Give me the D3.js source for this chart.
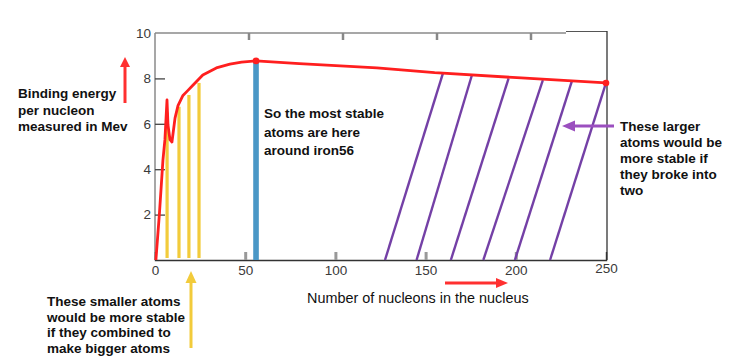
<!DOCTYPE html>
<html>
<head>
<meta charset="utf-8">
<script src="https://cdn.jsdelivr.net/npm/d3@7"></script>
<style>
  body { margin: 0; background: #fff; }
  svg { font-family: "Liberation Sans", Arial, Helvetica, sans-serif; }
  .note { font-weight: bold; font-size: 13.5px; fill: #111; }
</style>
</head>
<body>
<div id="chart"></div>
<script>
// binding energy curve (nucleons, MeV per nucleon)
var nucleons = [0.5, 2.5, 4.4, 5.5, 6.65, 7.2, 8.3, 9.4, 11.1, 12.75, 15.5, 18, 21, 26.5, 34, 41.5, 48, 56, 80, 123, 155, 203, 250];
var energy   = [0, 2.1, 4.4, 5.3, 7.05, 5.95, 5.3, 5.2, 6.25, 6.8, 7.25, 7.45, 7.7, 8.15, 8.46, 8.63, 8.72, 8.77, 8.65, 8.46, 8.25, 8.02, 7.8];

// marked points on the curve
var markA = [56, 250];
var markE = [8.77, 7.8];

// yellow bars (small atoms)
var fusionA = [6.7, 13.3, 18.8, 24.4];
var fusionE = [6.5, 6.75, 7.27, 7.8];

// blue bar (iron 56)
var ironA = 56;
var ironE = 8.7;

// purple lines (large atoms): from the axis up to the curve
var fissionFrom = [127.5, 145, 164, 182, 199.5, 219];
var fissionTo   = [159.6, 175.7, 196, 215, 231, 250];
var fissionE    = [8.22, 8.15, 8.0, 7.92, 7.86, 7.8];

var xTicks = [0, 50, 100, 150, 200, 250];
var yTicks = [2, 4, 6, 8, 10];
var topTicks = [50, 100, 150, 200];

var width = 730, height = 364;

var svg = d3.select("#chart").append("svg")
  .attr("width", width)
  .attr("height", height);

var x = d3.scaleLinear().domain([0, 250]).range([155, 606]);
var xTop = d3.scaleLinear().domain([0, 250]).range([155, 625]);
var y = d3.scaleLinear().domain([0, 10]).range([260, 33]);

// frame
svg.append("line").attr("x1", x(0)).attr("x2", x(0)).attr("y1", y(0)).attr("y2", y(10))
  .attr("stroke", "#8a8a8a").attr("stroke-width", 1.5);
svg.append("line").attr("x1", x(0)).attr("x2", 566).attr("y1", y(10)).attr("y2", y(10))
  .attr("stroke", "#8a8a8a").attr("stroke-width", 1.5);
svg.append("line").attr("x1", 566).attr("x2", 607).attr("y1", y(10) - 1.5).attr("y2", y(10) - 1.5)
  .attr("stroke", "#555").attr("stroke-width", 1.2);
svg.append("line").attr("x1", 607).attr("x2", 607).attr("y1", y(10) - 2).attr("y2", y(0))
  .attr("stroke", "#333").attr("stroke-width", 1.3);

// top ticks
svg.selectAll(".tt").data(topTicks).enter().append("line")
  .attr("x1", function(d) { return xTop(d); })
  .attr("x2", function(d) { return xTop(d); })
  .attr("y1", y(10)).attr("y2", y(10) + 7)
  .attr("stroke", "#888").attr("stroke-width", 2.5);

// x axis
var xAxis = d3.axisBottom(x).tickValues(xTicks).tickSize(-8).tickPadding(5);
var gx = svg.append("g").attr("transform", "translate(0," + y(0) + ")").call(xAxis);
gx.select(".domain").attr("stroke", "#333").attr("stroke-width", 1.4);
gx.selectAll(".tick line").attr("stroke", "#999").attr("stroke-width", 3)
  .filter(function(d) { return d == 0 || d == 250; }).remove();
gx.selectAll(".tick text").attr("font-size", 13.5).attr("fill", "#3a3a3a")
  .attr("font-family", "Liberation Sans, Arial, sans-serif");
gx.selectAll(".tick text").filter(function(d) { return d == 250; }).attr("y", 3);

// y axis
var yAxis = d3.axisLeft(y).tickValues(yTicks).tickSize(-10).tickPadding(4);
var gy = svg.append("g").attr("transform", "translate(" + x(0) + ",0)").call(yAxis);
gy.select(".domain").remove();
gy.selectAll(".tick line").attr("stroke", "#444").attr("stroke-width", 1.3)
  .filter(function(d) { return d == 10; }).remove();
gy.selectAll(".tick text").attr("font-size", 13.5).attr("fill", "#3a3a3a")
  .attr("font-family", "Liberation Sans, Arial, sans-serif");

// yellow bars
svg.selectAll(".fusion").data(fusionA).enter().append("rect")
  .attr("x", function(d) { return x(d) - 1.6; })
  .attr("y", function(d, i) { return y(fusionE[i]); })
  .attr("width", 3.2)
  .attr("height", function(d, i) { return y(0) - y(fusionE[i]) - 2; })
  .attr("fill", "#f2cb3b");

// blue bar
svg.append("rect")
  .attr("x", x(ironA) - 2.8)
  .attr("y", y(ironE))
  .attr("width", 5.6)
  .attr("height", y(0) - y(ironE))
  .attr("fill", "#4a97c6");

// purple lines
svg.selectAll(".fission").data(fissionFrom).enter().append("line")
  .attr("x1", function(d) { return x(d); })
  .attr("y1", y(0))
  .attr("x2", function(d, i) { return x(fissionTo[i]); })
  .attr("y2", function(d, i) { return y(fissionE[i]); })
  .attr("stroke", "#7440a6").attr("stroke-width", 2.4);

// binding energy curve
var line = d3.line()
  .x(function(d) { return x(d); })
  .y(function(d, i) { return y(energy[i]); });
svg.append("path").datum(nucleons)
  .attr("d", line)
  .attr("fill", "none")
  .attr("stroke", "#ff1f1f")
  .attr("stroke-width", 2.8)
  .attr("stroke-linejoin", "round");

svg.selectAll(".mark").data(markA).enter().append("circle")
  .attr("cx", function(d) { return x(d); })
  .attr("cy", function(d, i) { return y(markE[i]); })
  .attr("r", 3.3)
  .attr("fill", "#ff1f1f");

// arrows
function arrow(x1, y1, x2, y2, color, w, headLen, headW) {
  var ang = Math.atan2(y2 - y1, x2 - x1);
  var bx = x2 - headLen * Math.cos(ang), by = y2 - headLen * Math.sin(ang);
  svg.append("line").attr("x1", x1).attr("y1", y1).attr("x2", bx).attr("y2", by)
    .attr("stroke", color).attr("stroke-width", w);
  var px = -Math.sin(ang) * headW / 2, py = Math.cos(ang) * headW / 2;
  svg.append("polygon")
    .attr("points", [[x2, y2], [bx + px, by + py], [bx - px, by - py]].join(" "))
    .attr("fill", color);
}
arrow(125, 103, 125, 57, "#ff3030", 3, 10, 10);
arrow(445, 283, 508, 283, "#ff3030", 3, 12, 10);
arrow(191, 348, 191, 271, "#f2cb3b", 3, 12, 11);
arrow(614, 126, 562, 126, "#9b4fbf", 3, 13, 11);

// notes
function note(x0, y0, lines, step, cls) {
  var t = svg.append("text").attr("class", cls || "note").attr("x", x0).attr("y", y0);
  lines.forEach(function(s, i) {
    t.append("tspan").attr("x", x0).attr("dy", i == 0 ? 0 : step).text(s);
  });
  return t;
}
note(18, 98, ["Binding energy", "per nucleon", "measured in Mev"], 16.7);
note(264, 118, ["So the most stable", "atoms are here", "around iron56"], 18.5);
note(620, 131, ["These larger", "atoms would be", "more stable if", "they broke into", "two"], 16);
note(47, 306, ["These smaller atoms", "would be more stable", "if they combined to", "make bigger atoms"], 15.6);

svg.append("text").attr("x", 307).attr("y", 303)
  .attr("font-size", 14.4).attr("fill", "#111")
  .text("Number of nucleons in the nucleus");
</script>
</body>
</html>
